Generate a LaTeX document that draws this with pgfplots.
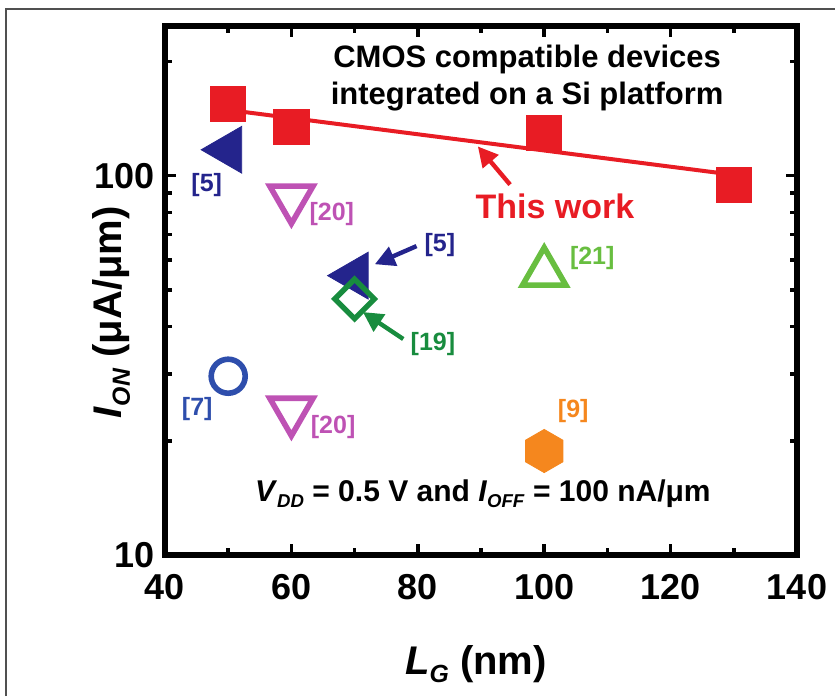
\documentclass[border=0pt]{standalone}
\usepackage{pgfplots}
\pgfplotsset{compat=1.18}
\usepackage{fontspec}
\setmainfont{Liberation Sans}
\usetikzlibrary{arrows.meta}

\definecolor{cred}{RGB}{232,28,36}
\definecolor{cnavy}{RGB}{36,36,140}
\definecolor{cblue}{RGB}{46,78,172}
\definecolor{cmag}{RGB}{190,82,180}
\definecolor{cdgreen}{RGB}{24,140,62}
\definecolor{clgreen}{RGB}{104,190,64}
\definecolor{corange}{RGB}{245,135,30}
\definecolor{cframe}{RGB}{80,80,80}

\pgfdeclareplotmark{hexagon*}{%
  \pgfpathmoveto{\pgfpointpolar{90}{\pgfplotmarksize}}%
  \pgfpathlineto{\pgfpointpolar{150}{\pgfplotmarksize}}%
  \pgfpathlineto{\pgfpointpolar{210}{\pgfplotmarksize}}%
  \pgfpathlineto{\pgfpointpolar{270}{\pgfplotmarksize}}%
  \pgfpathlineto{\pgfpointpolar{330}{\pgfplotmarksize}}%
  \pgfpathlineto{\pgfpointpolar{30}{\pgfplotmarksize}}%
  \pgfpathclose
  \pgfusepathqfillstroke}

\newcommand{\sub}[1]{\raisebox{-0.4ex}{\fontsize{0.62em}{0.62em}\selectfont #1}}
\newcommand{\reff}{\bfseries\fontsize{12.5}{14}\selectfont}

\begin{document}
\begin{tikzpicture}
\useasboundingbox (-82.5pt,-70.5pt) rectangle (335pt,277.5pt);
\draw[cframe, line width=0.8pt] (-79.5pt,-70.5pt) -- (-79.5pt,273pt) -- (335pt,273pt);
\begin{axis}[
  at={(0,0)}, anchor=south west,
  scale only axis, width=316pt, height=264.5pt,
  xmin=40, xmax=140, ymin=10, ymax=248,
  ymode=log,
  axis line style={line width=3pt},
  every tick/.style={line width=1.8pt, black},
  tick align=inside,
  major tick length=5.5pt, minor tick length=3.5pt,
  xtick={40,60,80,100,120,140},
  minor xtick={50,70,90,110,130},
  ytick={10,100}, yticklabels={10,100},
  minor ytick={20,30,40,50,60,70,80,90,200},
  /pgf/number format/assume math mode=true,
  ticklabel style={font=\bfseries\fontsize{18}{20}\selectfont},
  xticklabel style={yshift=-6pt},
  yticklabel style={xshift=-1.5pt},
  xlabel={\bfseries\fontsize{20}{22}\selectfont\textit{L}\sub{\textit{G}} (nm)},
  ylabel={\bfseries\fontsize{20}{22}\selectfont\textit{I}\sub{\textit{ON}} (μA/μm)},
  xlabel style={at={(axis description cs:0.492,-0.225)}, anchor=base},
  ylabel style={at={(axis description cs:-0.085,0.459)}, anchor=center},
  clip=false,
]
% this work
\addplot[cred, line width=2pt, forget plot] coordinates {(50,149) (130,100.5)};
\addplot[only marks, mark=square*, mark size=8.8pt, cred, mark options={fill=cred, draw=cred}]
  coordinates {(50,154.5) (60,134.5) (100,129.7) (130,94.7)};
% [5]
\addplot[only marks, mark=triangle*, mark size=13.5pt, mark options={rotate=90, fill=cnavy, draw=cnavy}]
  coordinates {(50,117) (70,54.5)};
% [19]
\addplot[only marks, mark=square, mark size=7pt, mark options={rotate=45, draw=cdgreen, line width=2.7pt}]
  coordinates {(70,47.3)};
% [20]
\addplot[only marks, mark=triangle, mark size=12.5pt, mark options={rotate=180, draw=cmag, line width=2.8pt}]
  coordinates {(60,87) (60,24)};
% [21]
\addplot[only marks, mark=triangle, mark size=12.5pt, mark options={draw=clgreen, line width=2.8pt}]
  coordinates {(100,55.5)};
% [7]
\addplot[only marks, mark=o, mark size=8.5pt, mark options={draw=cblue, line width=2.8pt}]
  coordinates {(50,29.6)};
% [9]
\addplot[only marks, mark=hexagon*, mark size=10.8pt, mark options={fill=corange, draw=corange}]
  coordinates {(100,18.8)};

% arrows
\draw[cred, line width=2.2pt, -{Triangle[length=10pt,width=10pt]}] (axis cs:94.6,94.7) -- (axis cs:89.5,119.4);
\draw[cnavy, line width=2.2pt, -{Triangle[length=10pt,width=10pt]}] (axis cs:79.8,65.2) -- (axis cs:73.2,58.4);
\draw[cdgreen, line width=2.2pt, -{Triangle[length=10pt,width=10pt]}] (axis cs:77.7,37.1) -- (axis cs:71.3,43.7);

% labels
\node[cnavy, font=\reff] at (axis cs:46.6,94.7) {[5]};
\node[cmag, font=\reff] at (axis cs:66.4,79) {[20]};
\node[cnavy, font=\reff] at (axis cs:83.5,65.5) {[5]};
\node[clgreen, font=\reff] at (axis cs:107.6,60.5) {[21]};
\node[cdgreen, font=\reff] at (axis cs:82.4,36) {[19]};
\node[cblue, font=\reff] at (axis cs:45.1,24.3) {[7]};
\node[cmag, font=\reff] at (axis cs:66.6,21.8) {[20]};
\node[corange, font=\reff] at (axis cs:104.6,24) {[9]};

\node[cred, font=\bfseries\fontsize{17}{19}\selectfont] at (axis cs:101.7,82.9) {This work};
\node[align=center, font=\bfseries\fontsize{15.5}{18.5}\selectfont] at (axis cs:97.3,180.7)
  {CMOS compatible devices\\integrated on a Si platform};
\node[font=\bfseries\fontsize{15}{17}\selectfont] at (axis cs:90.3,14.5)
  {\textit{V}\sub{\textit{DD}} = 0.5 V and \textit{I}\sub{\textit{OFF}} = 100 nA/μm};
\end{axis}
\end{tikzpicture}
\end{document}
